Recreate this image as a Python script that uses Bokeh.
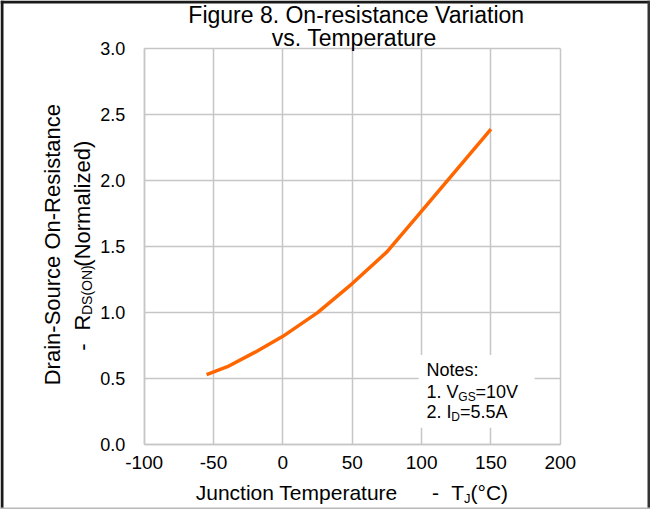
import math
from bokeh.plotting import figure
from bokeh.models import Label, BoxAnnotation, Range1d, LinearAxis, Grid, FixedTicker
from bokeh.embed import file_html
from bokeh.resources import INLINE

# ---------------- data ----------------
temps = [-55, -40, -20, 0, 25, 50, 75, 100, 125, 150]
rds_norm = [0.53, 0.59, 0.70, 0.82, 1.00, 1.22, 1.46, 1.77, 2.08, 2.39]
x_ticks = [-100, -50, 0, 50, 100, 150, 200]
x_tick_labels = ["-100", "-50", "0", "50", "100", "150", "200"]
y_ticks = [0.0, 0.5, 1.0, 1.5, 2.0, 2.5, 3.0]
y_tick_labels = ["0.0", "0.5", "1.0", "1.5", "2.0", "2.5", "3.0"]
title_lines = ["Figure 8. On-resistance Variation", "vs. Temperature"]

FONT = "Liberation Sans"
GRID = "#c6c6c6"
ORANGE = "#ff6600"

# ---------------- layout (reference pixels -> canvas pixels) ----------------
W, H = 650, 509
SX, SY = W / 656.0, H / 517.0
def ex(rx): return (rx - 7) * SX
def ey(ry): return (ry - 6) * SY

X0, X1, Y0, Y1 = -100.0, 200.0, 0.0, 3.0
fl, fr, ft, fb = ex(152), ex(572), ey(55), ey(457)
kx = (fr - fl) / (X1 - X0)
ky = (fb - ft) / (Y1 - Y0)
xr = Range1d(X0 - fl / kx, X1 + (W - fr) / kx)
yr = Range1d(Y0 - (H - fb) / ky, Y1 + ft / ky)
def DX(rx): return X0 + (ex(rx) - fl) / kx
def DY(ry): return Y0 + (fb - ey(ry)) / ky

p = figure(width=W, height=H, x_range=xr, y_range=yr, x_axis_type=None, y_axis_type=None,
           output_backend="svg", toolbar_location=None, min_border=0)
p.min_border_left = p.min_border_right = p.min_border_top = p.min_border_bottom = 0
p.outline_line_color = None
p.background_fill_color = "white"
p.border_fill_color = "white"

# grids limited to the plotting box
def add_grid(dim, ticks, bounds, cross):
    try:
        g = Grid(dimension=dim, ticker=FixedTicker(ticks=ticks), bounds=bounds, cross_bounds=cross,
                 grid_line_color=GRID, grid_line_width=1.5)
        p.add_layout(g)
    except Exception:
        if dim == 0:
            p.segment(x0=ticks, x1=ticks, y0=[cross[0]] * len(ticks), y1=[cross[1]] * len(ticks),
                      line_color=GRID, line_width=1.5)
        else:
            p.segment(x0=[cross[0]] * len(ticks), x1=[cross[1]] * len(ticks), y0=ticks, y1=ticks,
                      line_color=GRID, line_width=1.5)

add_grid(0, x_ticks, (X0, X1), (Y0, Y1))
add_grid(1, y_ticks, (Y0, Y1), (X0, X1))

xaxis = LinearAxis(fixed_location=Y0, ticker=FixedTicker(ticks=x_ticks), bounds=(X0, X1),
                   major_label_overrides=dict(zip(x_ticks, x_tick_labels)))
yaxis = LinearAxis(fixed_location=X0, ticker=FixedTicker(ticks=y_ticks), bounds=(Y0, Y1),
                   major_label_overrides=dict(zip(y_ticks, y_tick_labels)))
for ax in (xaxis, yaxis):
    ax.major_tick_line_color = None
    ax.minor_tick_line_color = None
    ax.axis_line_color = GRID
    ax.axis_line_width = 1.5
    ax.major_label_text_font = FONT
    ax.major_label_text_color = "black"
xaxis.major_label_text_font_size = "19px"
yaxis.major_label_text_font_size = "18px"
xaxis.major_label_standoff = 5
yaxis.major_label_standoff = 13
p.add_layout(xaxis, "below")
p.add_layout(yaxis, "left")

# curve
p.line(temps, rds_norm, line_color=ORANGE, line_width=3.5)

# notes background
p.add_layout(BoxAnnotation(left=DX(429), right=DX(546), top=DY(366), bottom=DY(440),
                           fill_color="white", fill_alpha=1.0, line_color=None))

# outer frame of the figure
def strip(x0px=None, x1px=None, y0px=None, y1px=None, color="#1a1a1a"):
    kw = dict(fill_color=color, fill_alpha=1.0, line_color=None)
    if x0px is not None:
        kw["left"] = xr.start + x0px / kx
        kw["right"] = xr.start + x1px / kx
    if y0px is not None:
        kw["top"] = yr.end - y0px / ky
        kw["bottom"] = yr.end - y1px / ky
    p.add_layout(BoxAnnotation(**kw))

strip(x0px=0, x1px=3)                       # left
strip(y0px=0, y1px=3)                       # top
strip(x0px=W - 3, x1px=W, color="#333333")  # right
strip(y0px=H - 2, y1px=H, color="#b8b8b8")  # bottom

# Arial / Liberation Sans advance widths (1/1000 em)
AW = {" ": 278, "(": 333, ")": 333, "-": 333, ".": 278, ":": 278, "=": 584, "\u00b0": 400,
      "\u2013": 556, "A": 667, "C": 722, "D": 722, "F": 611, "G": 778, "I": 278, "J": 500,
      "N": 722, "O": 778, "R": 722, "S": 667, "T": 611, "V": 667, "a": 556, "c": 500,
      "d": 556, "e": 556, "g": 556, "i": 222, "l": 222, "m": 833, "n": 556, "o": 556,
      "p": 556, "r": 333, "s": 500, "t": 278, "u": 556, "v": 500, "z": 500}
def tw(text, size):
    return sum(AW.get(c, 556) for c in text) * size / 1000.0

BASE_FIX = 0.38   # empirical shift of the alphabetic anchor, in em

def lab(text, rx, ry, size, align="left", angle=0.0):
    if angle == 0.0:
        ry = ry - BASE_FIX * size
    else:
        rx = rx - BASE_FIX * size
    p.add_layout(Label(x=DX(rx), y=DY(ry), text=text, text_font=FONT,
                       text_font_size=f"{size}px", text_color="black",
                       text_align=align, text_baseline="alphabetic", angle=angle))

def chain(pieces, rx, ry, angle=0.0):
    """pieces: (text, size, baseline shift) laid out along the reading direction."""
    pos = 0.0
    for text, size, shift in pieces:
        w = tw(text, size)
        if angle == 0.0:
            lab(text, rx + pos, ry + shift, size, angle=0.0)
        else:
            # rotated pieces are anchored at their centre
            lab(text, rx + shift, ry - pos - w / 2, size, align="center", angle=angle)
        pos += w

# title
lab(title_lines[0], 366, 29.5, 23, align="center")
lab(title_lines[1], 364, 53, 23, align="center")

# notes
NS, SS = 18, 12
lab("Notes:", 437, 388, NS)
chain([("1. V", NS, 0), ("GS", SS, 3), ("=10V", NS, 0)], 437, 410)
chain([("2. I", NS, 0), ("D", SS, 3), ("=5.5A", NS, 0)], 437, 431)

# x axis title
XS = 21
lab("Junction Temperature", 204, 514, XS)
lab("-", 446, 514, XS, align="center")
chain([("T", XS, 0), ("J", 13, 3), ("(\u00b0C)", XS, 0)], 462, 514)

# y axis title (rotated)
R = math.pi / 2
YS = 22
lab("Drain-Source On-Resistance", 68, 254, YS, align="center", angle=R)
lab("-", 98, 358, YS, align="center", angle=R)
chain([("R", YS, 0), ("DS(ON)", 14, 2), ("(Normalized)", YS, 0)], 98, 341, angle=R)

open("out.html", "w").write(file_html(p, INLINE))
